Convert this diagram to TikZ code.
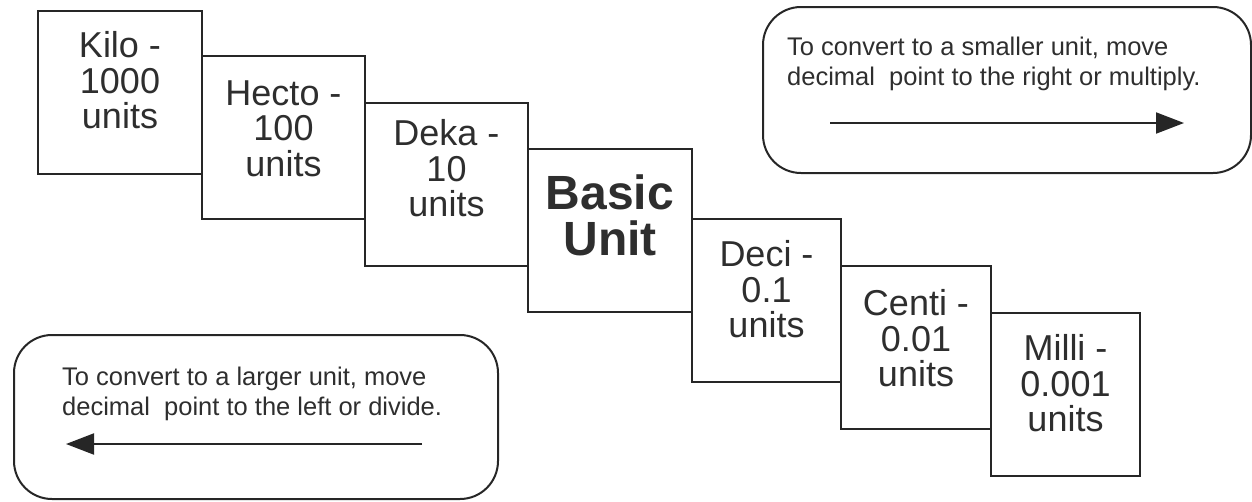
\documentclass[tikz,border=0pt]{standalone}
\usepackage{fontspec}
\setmainfont{Liberation Sans}
\usetikzlibrary{arrows.meta}
\definecolor{ink}{HTML}{262626}
\definecolor{txt}{HTML}{2E2E2E}
\tikzset{
  unitbox/.style={draw=ink, line width=2pt, minimum height=163pt, inner sep=0pt, anchor=north west},
  unittext/.style={text=txt, align=center, inner sep=0pt, font=\fontsize{36}{35.5}\selectfont},
  basictext/.style={text=txt, align=center, inner sep=0pt, font=\fontsize{48}{46}\selectfont\bfseries},
  roundbox/.style={draw=ink, line width=2pt, rounded corners=38pt, inner sep=0pt, anchor=north west},
  note/.style={text=txt, inner sep=0pt, anchor=base west, font=\fontsize{25.5}{30}\selectfont},
  conv/.style={draw=ink, line width=2pt, -{Triangle[length=28pt, width=21pt]}}
}
\begin{document}
\begin{tikzpicture}[x=1pt, y=-1pt]
\useasboundingbox (0,0) rectangle (1252,501);
% unit boxes
\node[unitbox, minimum width=164pt] (kilo) at (37,10) {};
\node[unitbox, minimum width=163pt] (hecto) at (201,55) {};
\node[unitbox, minimum width=163pt] (deka) at (364,102) {};
\node[unitbox, minimum width=164pt] (basic) at (527,148) {};
\node[unitbox, minimum width=149pt] (deci) at (691,218) {};
\node[unitbox, minimum width=150pt] (centi) at (840,265) {};
\node[unitbox, minimum width=149pt] (milli) at (990,312) {};
% texts
\node[unittext] (kilot) at ([yshift=12pt]kilo.center) {Kilo -\\1000\\units};
\node[unittext] (hectot) at ([yshift=9pt]hecto.center) {Hecto -\\100\\units};
\node[unittext] (dekat) at ([yshift=16pt]deka.center) {Deka -\\10\\units};
\node[basictext] (basict) at ([yshift=15pt]basic.center) {Basic\\Unit};
\node[unittext] (decit) at ([yshift=11pt]deci.center) {Deci -\\0.1\\units};
\node[unittext] (centit) at ([yshift=9pt]centi.center) {Centi -\\0.01\\units};
\node[unittext] (millit) at ([yshift=11pt]milli.center) {Milli -\\0.001\\units};
% right note
\node[roundbox, minimum width=488pt, minimum height=166pt] (rbox) at (762,6) {};
\node[note] (rt1) at (787,55) {To convert to a smaller unit, move};
\node[note] (rt2) at (787,85) {decimal\ \ point to the right or multiply.};
\coordinate (ra1) at (830,123);
\coordinate (ra2) at (1184,123);
\draw[conv] (ra1) -- (ra2);
% left note
\node[roundbox, minimum width=484pt, minimum height=164pt] (lbox) at (13,334) {};
\node[note] (lt1) at (62,385) {To convert to a larger unit, move};
\node[note] (lt2) at (62,415) {decimal\ \ point to the left or divide.};
\coordinate (la1) at (422,444);
\coordinate (la2) at (66,444);
\draw[conv] (la1) -- (la2);
\end{tikzpicture}
\end{document}
